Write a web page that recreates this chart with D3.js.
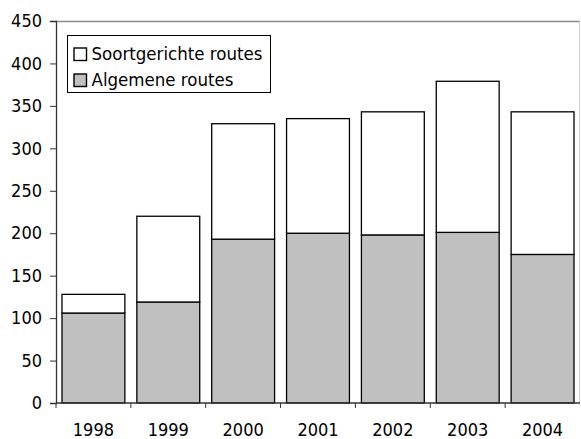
<!DOCTYPE html>
<html>
<head>
<meta charset="utf-8">
<script src="https://cdn.jsdelivr.net/npm/d3@7"></script>
<style>
  html, body { margin: 0; padding: 0; background: #fff; }
  svg { display: block; }
  text { font-family: "DejaVu Sans Condensed", "DejaVu Sans", sans-serif; fill: #000; }
</style>
</head>
<body>
<svg id="chart" width="581" height="439"></svg>
<script>
// Number of routes per year, split into general and species-directed routes
const years = ["1998", "1999", "2000", "2001", "2002", "2003", "2004"];
const algemene = [106, 119, 193, 200, 198, 201, 175];
const soortgericht = [22, 101, 136, 135, 145, 178, 168];
const yTicks = [0, 50, 100, 150, 200, 250, 300, 350, 400, 450];
const seriesNames = ["Soortgerichte routes", "Algemene routes"];
const seriesColors = ["#ffffff", "#c0c0c0"];

const FONT = "DejaVu Sans Condensed, DejaVu Sans, sans-serif";
const svg = d3.select("#chart");
const m = { left: 56, right: 1, top: 21, bottom: 36 };
const W = 581, H = 439;

const x = d3.scaleBand().domain(years).range([m.left, W - m.right]).paddingInner(0.16).paddingOuter(0.08);
const y = d3.scaleLinear().domain([0, 450]).range([H - m.bottom, m.top]);

// plot frame (top and right)
svg.append("line").attr("x1", m.left).attr("x2", W - m.right).attr("y1", m.top + 0.5).attr("y2", m.top + 0.5)
  .attr("stroke", "#8c8c8c").attr("stroke-width", 1.5);
svg.append("line").attr("x1", W - m.right - 0.5).attr("x2", W - m.right - 0.5).attr("y1", m.top).attr("y2", H - m.bottom)
  .attr("stroke", "#d0d0d0").attr("stroke-width", 1);

// stacked bars
const rows = years.map((yr, i) => ({ year: yr, a: algemene[i], s: soortgericht[i] }));
const g = svg.append("g");
rows.forEach(d => {
  g.append("rect")
    .attr("x", x(d.year)).attr("width", x.bandwidth())
    .attr("y", y(d.a)).attr("height", y(0) - y(d.a))
    .attr("fill", seriesColors[1]).attr("stroke", "#000").attr("stroke-width", 1.3);
  g.append("rect")
    .attr("x", x(d.year)).attr("width", x.bandwidth())
    .attr("y", y(d.a + d.s)).attr("height", y(d.a) - y(d.a + d.s))
    .attr("fill", seriesColors[0]).attr("stroke", "#000").attr("stroke-width", 1.3);
});

// y axis
const yAxis = d3.axisLeft(y).tickValues(yTicks).tickSize(6).tickPadding(8);
const ya = svg.append("g").attr("transform", `translate(${m.left},0)`).call(yAxis);
ya.select(".domain").attr("stroke", "#333").attr("stroke-width", 1.3);
ya.selectAll(".tick line").attr("stroke", "#333");
ya.selectAll(".tick text").attr("font-size", 18).attr("font-family", FONT).attr("fill", "#000");

// x axis with ticks on category boundaries
const xa = svg.append("g").attr("transform", `translate(0,${y(0)})`);
xa.append("line").attr("x1", m.left).attr("x2", W - m.right).attr("stroke", "#333").attr("stroke-width", 1.3);
const bounds = d3.range(years.length).map(i => m.left + i * (W - m.right - m.left) / years.length);
xa.selectAll(".xt").data(bounds).join("line")
  .attr("x1", d => d).attr("x2", d => d).attr("y1", 0).attr("y2", 5).attr("stroke", "#333");
xa.selectAll(".xl").data(years).join("text")
  .attr("x", d => x(d) + x.bandwidth() / 2).attr("y", 33)
  .attr("text-anchor", "middle").attr("font-size", 18).text(d => d);

// legend
const lg = svg.append("g").attr("transform", "translate(67,35)");
lg.append("rect").attr("x", 0.5).attr("y", 0.5).attr("width", 203).attr("height", 57).attr("fill", "#fff").attr("stroke", "#000").attr("stroke-width", 1);
seriesNames.forEach((name, i) => {
  const yy = 19 + i * 26;
  lg.append("rect").attr("x", 7).attr("y", yy - 6).attr("width", 12.5).attr("height", 12.5)
    .attr("fill", seriesColors[i]).attr("stroke", "#000").attr("stroke-width", 1.4);
  lg.append("text").attr("x", 24.5).attr("y", yy + 6).attr("font-size", 18.5).text(name);
});
</script>
</body>
</html>
